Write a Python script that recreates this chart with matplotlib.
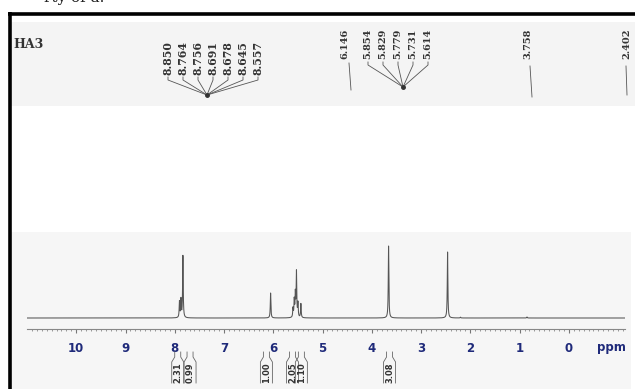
import numpy as np
import matplotlib
matplotlib.use("Agg")
import matplotlib.pyplot as plt
from matplotlib.transforms import blended_transform_factory

# ---------------- data ----------------
peak_ppm = [7.905, 7.875, 7.835, 6.055, 5.60, 5.575, 5.553, 5.530, 5.500, 5.440, 3.660, 2.462, 0.85, 2.20]
peak_height = [16, 18, 62, 25, 9, 17, 23, 45, 14, 14, 72, 66, 1.0, 0.8]
peak_hwhm = 0.007

tick_values = [10, 9, 8, 7, 6, 5, 4, 3, 2, 1, 0]
tick_labels = ["10", "9", "8", "7", "6", "5", "4", "3", "2", "1", "0"]

integral_values = ["2.31", "0.99", "1.00", "2.05", "1.10", "3.08"]
integral_ppm = [7.94, 7.69, 6.14, 5.61, 5.43, 3.64]

group1_labels = ["8.850", "8.764", "8.756", "8.691", "8.678", "8.645", "8.557"]
group2_labels = ["5.854", "5.829", "5.779", "5.731", "5.614"]
single_labels = ["6.146", "3.758", "2.402"]
sample_name = "HA3"

# ---------------- layout (pixels) ----------------
W, H = 635, 389
DPI = 100
fig = plt.figure(figsize=(W / DPI, H / DPI), dpi=DPI)
fig.patch.set_facecolor("white")

# background overlay
bg = fig.add_axes([0, 0, 1, 1], zorder=0)
bg.set_xlim(0, W)
bg.set_ylim(H, 0)
bg.axis("off")
bg.add_patch(plt.Rectangle((11, 22), W - 11, 84, color="#f4f4f4", lw=0))
bg.add_patch(plt.Rectangle((11, 232), 620, H - 232, color="#f6f6f6", lw=0))
# frame
bg.plot([8, W], [13.5, 13.5], color="black", lw=2.6, solid_capstyle="butt")
bg.plot([9.5, 9.5], [12, H], color="black", lw=2.6, solid_capstyle="butt")
bg.text(44, 2, "rty of a.", fontsize=11, family="DejaVu Serif", color="#222222",
        va="baseline", ha="left")

# spectrum axes
x_left, x_right = 27, 625
ppm_left, ppm_right = 11.0, -1.14
y_axis_px, y_top_px = 329, 240
ax = fig.add_axes([x_left / W, (H - y_axis_px) / H, (x_right - x_left) / W,
                   (y_axis_px - y_top_px) / H], zorder=1)
ax.patch.set_alpha(0)
ax.set_xlim(ppm_left, ppm_right)
ax.set_ylim(-11, 78)

ppm = np.linspace(ppm_left, ppm_right, 30000)
spec = np.zeros_like(ppm)
for p, h in zip(peak_ppm, peak_height):
    spec += h / (1 + ((ppm - p) / peak_hwhm) ** 2)
ax.plot(ppm, spec, color="#555555", lw=0.75)

for s in ["top", "left", "right"]:
    ax.spines[s].set_visible(False)
ax.spines["bottom"].set_color("#888888")
ax.spines["bottom"].set_linewidth(0.8)
ax.set_yticks([])
ax.set_xticks(tick_values)
ax.set_xticklabels(tick_labels)
ax.set_xticks(np.arange(-1.1, 11.0, 0.1), minor=True)
ax.tick_params(axis="x", which="major", length=3.2, width=0.8, color="#777777",
               pad=6.5, labelsize=8.5, labelcolor="#1f2a7a")
ax.tick_params(axis="x", which="minor", length=1.6, width=0.6, color="#888888")
for lab in ax.get_xticklabels():
    lab.set_fontweight("bold")
ax.text(-0.87, -0.137, "ppm", transform=blended_transform_factory(ax.transData, ax.transAxes),
        ha="center", va="top", fontsize=8.5, fontweight="bold", color="#1f2a7a")

# annotation overlay
ov = fig.add_axes([0, 0, 1, 1], zorder=2)
ov.patch.set_alpha(0)
ov.set_xlim(0, W)
ov.set_ylim(H, 0)
ov.axis("off")

ov.text(13, 44, sample_name, fontsize=9, fontweight="bold", family="DejaVu Serif",
        color="#333333", ha="left", va="center")

lc = "#555555"
# group 1
g1_x = [168, 183, 198, 213, 228, 243, 258]
g1_conv = (207, 95)
for lab, x in zip(group1_labels, g1_x):
    ov.text(x, 75, lab, rotation=90, ha="center", va="bottom", fontsize=7.8,
            fontweight="bold", family="DejaVu Serif", color="#333333")
    ov.plot([x, x, g1_conv[0]], [77, 80, g1_conv[1]], color=lc, lw=0.6)
ov.plot(*g1_conv, marker="o", ms=2.5, color="#333333")

# group 2
g2_x = [368, 383, 398, 413, 428]
g2_conv = (403, 87)
for lab, x in zip(group2_labels, g2_x):
    ov.text(x, 59, lab, rotation=90, ha="center", va="bottom", fontsize=7,
            fontweight="bold", family="DejaVu Serif", color="#333333")
    ov.plot([x, x, g2_conv[0]], [62, 65, g2_conv[1]], color=lc, lw=0.6)
ov.plot(*g2_conv, marker="o", ms=2.5, color="#333333")

# singles
single_x = [345, 528, 627]
single_line = [((349, 63), (351, 90)), ((530, 66), (532, 97)), ((626, 66), (627, 95))]
for lab, x, ((xa, ya), (xb, yb)) in zip(single_labels, single_x, single_line):
    ov.text(x, 59, lab, rotation=90, ha="center", va="bottom", fontsize=7,
            fontweight="bold", family="DejaVu Serif", color="#333333")
    ov.plot([xa, xb], [ya, yb], color=lc, lw=0.6)

# integrals
tr = blended_transform_factory(ax.transData, ov.transData)
px_per_ppm = (x_right - x_left) / (ppm_left - ppm_right)
for val, p in zip(integral_values, integral_ppm):
    d_in = 3.0 / px_per_ppm
    d_out = 6.0 / px_per_ppm
    ax_lines = dict(color="#666666", lw=0.6, transform=tr, clip_on=False)
    ov.plot([p + d_in, p + d_in, p + d_out, p + d_out], [352, 357, 362, 383], **ax_lines)
    ov.plot([p - d_in, p - d_in, p - d_out, p - d_out], [352, 357, 362, 383], **ax_lines)
    ov.text(p, 373, val, rotation=90, ha="center", va="center", fontsize=6,
            fontweight="bold", color="#333333", transform=tr)

fig.savefig("out.png", dpi=DPI)
